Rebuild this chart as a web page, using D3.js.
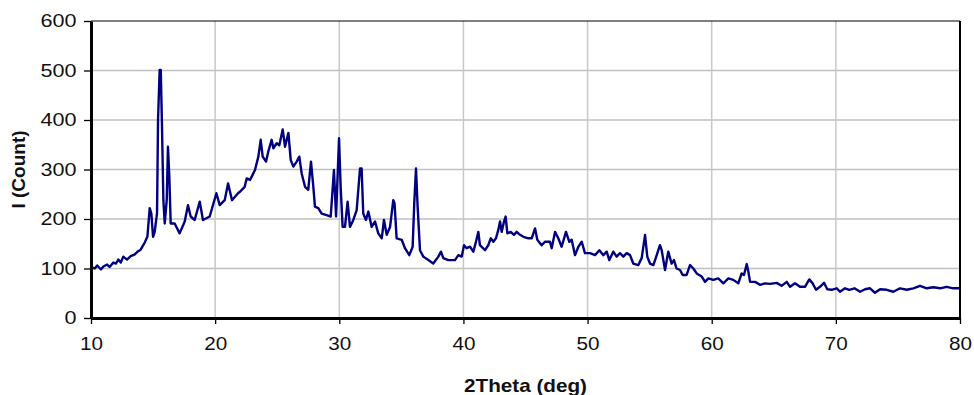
<!DOCTYPE html>
<html>
<head>
<meta charset="utf-8">
<script src="https://cdn.jsdelivr.net/npm/d3@7"></script>
<style>
  body { margin: 0; background: #fff; }
  svg { display: block; font-family: "Liberation Sans", Arial, sans-serif; }
</style>
</head>
<body>
<svg id="chart" width="974" height="395"></svg>
<script>
// diffraction pattern
const twoTheta = [
  10.0, 10.3, 10.5, 10.8, 11.0, 11.3, 11.5, 11.8, 12.0, 12.2, 12.4, 12.6, 12.9, 13.2, 13.5, 13.8, 14.0, 14.32, 14.54,
  14.73, 14.86, 15.0, 15.13, 15.32, 15.4, 15.53, 15.62, 15.72, 15.83, 15.94, 16.1, 16.2, 16.31, 16.42, 16.74,
  17.14, 17.55, 17.81, 18.03, 18.35, 18.76, 19.02, 19.56, 20.1, 20.37, 20.77, 21.04, 21.36, 21.84, 22.0,
  22.38, 22.54, 22.81, 23.21, 23.48, 23.67, 23.83, 24.1, 24.28, 24.55, 24.69, 24.96, 25.17, 25.44, 25.63,
  25.9, 26.09, 26.3, 26.57, 26.78, 26.97, 27.24, 27.5, 27.72, 27.91, 28.04, 28.31, 28.58, 28.98, 29.31,
  29.57, 29.74, 29.98, 30.11, 30.27, 30.46, 30.67, 30.86, 31.13, 31.4, 31.67, 31.8, 31.93, 32.15, 32.34,
  32.61, 32.88, 33.14, 33.42, 33.6, 33.82, 34.09, 34.35, 34.45, 34.62, 35.03, 35.29, 35.64, 35.91, 36.04,
  36.18, 36.31, 36.5, 36.77, 37.17, 37.57, 37.98, 38.19, 38.38, 38.78, 39.32, 39.59, 39.86, 40.05, 40.26,
  40.53, 40.8, 41.01, 41.2, 41.33, 41.74, 42.0, 42.2, 42.41, 42.62, 42.81, 42.95, 43.08, 43.27, 43.4,
  43.54, 43.81, 44.07, 44.29, 44.56, 44.83, 45.23, 45.5, 45.77, 45.95, 46.3, 46.57, 46.97, 47.11, 47.38,
  47.64, 47.91, 48.26, 48.53, 48.72, 48.99, 49.26, 49.53, 49.79, 50.2, 50.6, 50.95, 51.27, 51.54, 51.75,
  52.07, 52.34, 52.61, 52.88, 53.15, 53.42, 53.68, 54.09, 54.36, 54.63, 54.81, 55.03, 55.3, 55.57, 55.83,
  55.97, 56.24, 56.5, 56.77, 56.96, 57.17, 57.45, 57.66, 57.98, 58.25, 58.52, 58.79, 59.19, 59.46, 59.73,
  60.13, 60.53, 60.94, 61.34, 61.74, 62.14, 62.41, 62.6, 62.82, 62.95, 63.09, 63.49, 63.89, 64.29, 64.7,
  65.23, 65.63, 66.04, 66.31, 66.71, 67.11, 67.51, 67.86, 68.13, 68.4, 68.72, 69.05, 69.31, 69.66, 70.07,
  70.33, 70.74, 71.08, 71.5, 71.95, 72.35, 72.75, 73.15, 73.56, 74.1, 74.63, 75.17, 75.71, 76.24, 76.78,
  77.32, 77.85, 78.39, 78.93, 79.46, 80.0
];
const counts = [
  103, 100, 106, 98, 104, 108, 103, 112, 110, 118, 112, 124, 118, 125, 128, 135, 138, 152, 164,
  222, 211, 164, 174, 212, 400, 501, 501, 386, 238, 191, 238, 346, 285, 191, 191,
  171, 195, 228, 205, 198, 235, 198, 205, 252, 228, 238, 272, 238, 252, 255,
  265, 282, 279, 299, 326, 360, 326, 316, 336, 360, 343, 353, 349, 381, 346,
  374, 319, 306, 316, 326, 292, 265, 259, 316, 265, 225, 222, 211, 208, 205,
  299, 205, 363, 265, 184, 184, 235, 184, 198, 218, 302, 302, 211, 198, 215,
  184, 195, 171, 161, 198, 168, 184, 238, 232, 161, 158, 141, 127, 144, 232,
  302, 225, 137, 124, 117, 110, 124, 134, 121, 117, 117, 127, 124, 147, 141,
  144, 134, 154, 174, 147, 137, 147, 161, 154, 161, 178, 195, 174, 195, 205,
  171, 174, 168, 174, 168, 164, 161, 161, 181, 158, 147, 154, 154, 141, 174,
  161, 144, 174, 154, 158, 127, 144, 154, 131, 131, 127, 137, 127, 134, 117,
  134, 124, 131, 124, 131, 127, 110, 107, 121, 168, 124, 110, 107, 127, 147,
  137, 97, 134, 110, 117, 100, 97, 87, 87, 107, 100, 90, 84, 73, 80,
  77, 80, 70, 80, 77, 70, 90, 87, 109, 94, 73, 73, 67, 70, 69,
  71, 65, 73, 63, 70, 63, 63, 78, 70, 57, 63, 71, 58, 57, 60,
  53, 60, 57, 60, 53, 58, 60, 51, 58, 57, 53, 60, 57, 60, 65,
  60, 62, 60, 63, 60, 60
];
const xTicks = [10, 20, 30, 40, 50, 60, 70, 80];
const yTicks = [0, 100, 200, 300, 400, 500, 600];

const svg = d3.select('#chart');
const margin = { top: 21, right: 14, bottom: 77, left: 91 };
const width = 974 - margin.left - margin.right;
const height = 395 - margin.top - margin.bottom;

const x = d3.scaleLinear().domain([10, 80]).range([0, width]);
const y = d3.scaleLinear().domain([0, 600]).range([height, 0]);

const g = svg.append('g').attr('transform', `translate(${margin.left},${margin.top})`);

// grid
g.append('g').selectAll('line')
  .data(yTicks.slice(1, -1))
  .join('line')
  .attr('x1', 0).attr('x2', width)
  .attr('y1', d => y(d)).attr('y2', d => y(d))
  .attr('stroke', '#c0c0c0').attr('stroke-width', 1.5);
g.append('g').selectAll('line')
  .data(xTicks.slice(1, -1))
  .join('line')
  .attr('x1', d => x(d)).attr('x2', d => x(d))
  .attr('y1', 0).attr('y2', height)
  .attr('stroke', '#c8c8c8').attr('stroke-width', 1.5);

// top and right frame
g.append('line').attr('x1', 0).attr('x2', width).attr('y1', y(600)).attr('y2', y(600))
  .attr('stroke', '#000').attr('stroke-width', 1.2);
g.append('line').attr('x1', width).attr('x2', width).attr('y1', 0).attr('y2', height)
  .attr('stroke', '#000').attr('stroke-width', 2);

// data line
const pts = twoTheta.map((t, i) => [t, counts[i]]);
const line = d3.line().x(d => x(d[0])).y(d => y(d[1]));
g.append('path')
  .datum(pts)
  .attr('d', line)
  .attr('fill', 'none')
  .attr('stroke', '#000080')
  .attr('stroke-width', 2.4)
  .attr('stroke-linejoin', 'round');

// axes
const xAxis = g.append('g').attr('transform', `translate(0,${height})`)
  .call(d3.axisBottom(x).tickValues(xTicks).tickSize(6).tickSizeOuter(0).tickPadding(13));
const yAxis = g.append('g')
  .call(d3.axisLeft(y).tickValues(yTicks).tickSize(7).tickSizeOuter(0).tickPadding(5));

[xAxis, yAxis].forEach(a => {
  a.select('.domain').attr('stroke', '#000').attr('stroke-width', 3);
  a.selectAll('.tick line').attr('stroke', '#000').attr('stroke-width', 1.3);
  a.selectAll('.tick text').attr('fill', '#111').style('font-size', '18px')
    .style('font-family', '"Liberation Sans", Arial, sans-serif');
});
// the source picture is a little wider than tall, so stretch labels
xAxis.selectAll('.tick text').attr('transform', 'scale(1.15,1)');
yAxis.selectAll('.tick text').attr('transform', 'scale(1.2,1)');

// titles
svg.append('text')
  .attr('transform', `translate(${margin.left + width / 2},392) scale(1.15,1)`)
  .attr('text-anchor', 'middle')
  .style('font-size', '18px').style('font-weight', 'bold').attr('fill', '#111')
  .text('2Theta (deg)');
svg.append('text')
  .attr('transform', `translate(25,${margin.top + height / 2}) rotate(-90)`)
  .attr('text-anchor', 'middle')
  .style('font-size', '19px').style('font-weight', 'bold').attr('fill', '#111')
  .text('I (Count)');
</script>
</body>
</html>
